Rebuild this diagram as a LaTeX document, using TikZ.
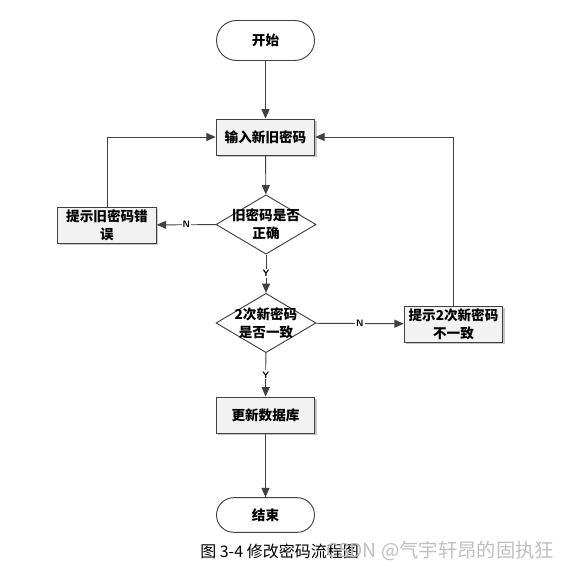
\documentclass[tikz,border=0pt]{standalone}
\usepackage{fontspec}
\newfontfamily\cjk{Noto Sans CJK SC}
\usetikzlibrary{shapes.geometric,shapes.misc,arrows.meta,shadows}
\definecolor{linec}{HTML}{404040}
\definecolor{boxfill}{HTML}{F2F2F2}
\tikzset{
  base/.style={draw=linec, line width=0.7pt, font=\cjk\bfseries\fontsize{10.2pt}{13.5pt}\selectfont, align=center, inner sep=0pt},
  term/.style={base, rounded rectangle, minimum width=73.5pt, fill=white},
  proc/.style={base, rectangle, minimum width=74pt, minimum height=27pt, fill=boxfill,
    drop shadow={shadow xshift=1.5pt, shadow yshift=-1.5pt, fill=gray!45, opacity=1}},
  dec/.style={base, diamond, minimum width=75pt, minimum height=44.5pt, fill=white},
  dectext/.style={font=\cjk\bfseries\fontsize{10.2pt}{13.5pt}\selectfont, align=center, inner sep=0pt},
  conn/.style={draw=linec, line width=0.7pt, -{Triangle[length=7pt,width=6pt]}},
  lbl/.style={font=\sffamily\bfseries\fontsize{7pt}{8pt}\selectfont, fill=white, inner sep=0.8pt, text=black}
}
\begin{document}
\begin{tikzpicture}[x=0.75pt,y=-0.75pt]
\useasboundingbox (0,0) rectangle (571,577);
\node[term, minimum height=30pt] (start) at (265.5,40.5) {开始};
\node[proc] (input) at (265.5,137) {输入新旧密码};
\node[dec] (d1) at (266,224.5) {};
\node[dectext] (d1t) at (d1) {旧密码是否\\正确};
\node[proc] (err1) at (107,225) {提示旧密码错\\误};
\node[dec] (d2) at (266,323) {};
\node[dectext] (d2t) at (d2) {2次新密码\\是否一致};
\node[proc] (err2) at (453.5,324) {提示2次新密码\\不一致};
\node[proc] (upd) at (265.5,415) {更新数据库};
\node[term, minimum height=26pt] (end) at (265.5,515) {结束};
\coordinate (c1) at (107,137);
\coordinate (c2) at (453.5,137);
\draw[conn] (start) -- (input);
\draw[conn] (input) -- (d1);
\draw[conn] (d1) -- node[lbl]{N} (err1);
\draw[conn] (d1) -- node[lbl]{Y} (d2);
\draw[conn] (d2) -- node[lbl]{N} (err2);
\draw[conn] (d2) -- node[lbl]{Y} (upd);
\draw[conn] (upd) -- (end);
\draw[conn] (err1.north) -- (c1) -- (input.west);
\draw[conn] (err2.north) -- (c2) -- (input.east);
\node[font=\cjk\fontsize{12pt}{13pt}\selectfont, anchor=west, inner sep=0pt] (cap) at (200,551) {图 3-4 修改密码流程图};
\node[font=\cjk\fontsize{14.5pt}{15pt}\selectfont, anchor=west, inner sep=0pt, text=gray!50] (wm) at (326,551) {CSDN @气宇轩昂的固执狂};
\end{tikzpicture}
\end{document}
